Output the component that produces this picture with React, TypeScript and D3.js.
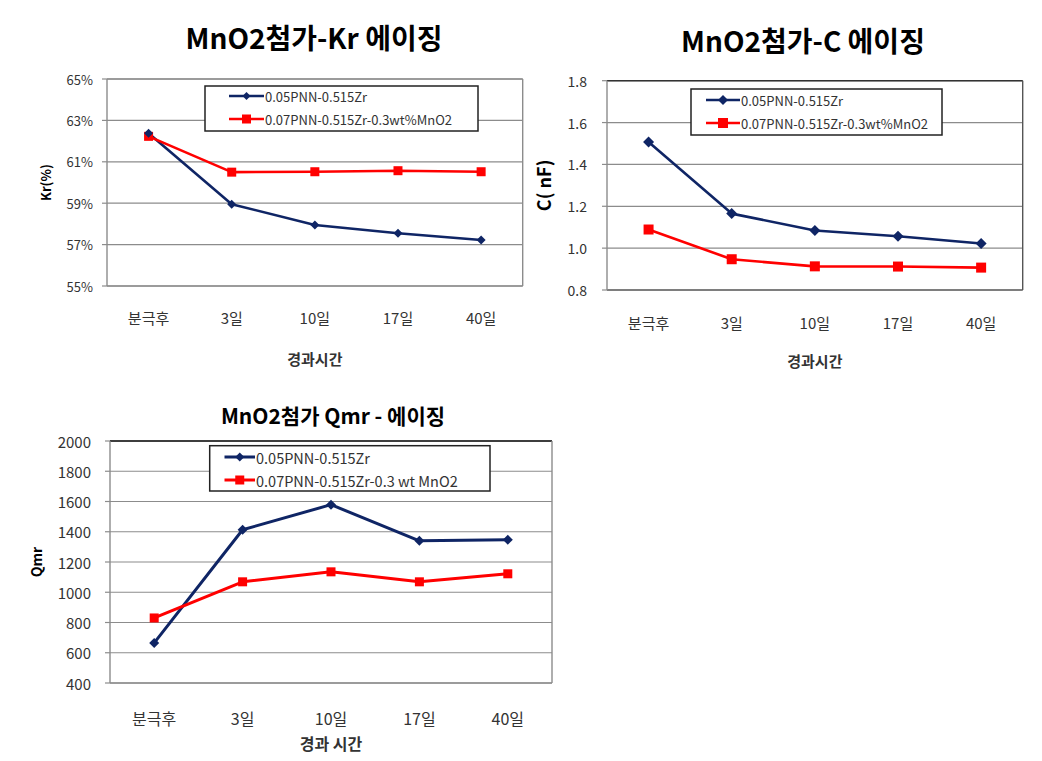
import React from "react";
import * as d3 from "d3";

const categories = ["분극후", "3일", "10일", "17일", "40일"];

const krSeriesA = [62.38, 58.95, 57.95, 57.55, 57.22];
const krSeriesB = [62.23, 60.5, 60.52, 60.57, 60.52];
const krTicks = [55, 57, 59, 61, 63, 65];

const cSeriesA = [1.507, 1.165, 1.084, 1.057, 1.022];
const cSeriesB = [1.089, 0.947, 0.913, 0.912, 0.907];
const cTicks = [0.8, 1.0, 1.2, 1.4, 1.6, 1.8];

const qmrSeriesA = [665, 1413, 1579, 1340, 1347];
const qmrSeriesB = [830, 1069, 1135, 1069, 1122];
const qmrTicks = [400, 600, 800, 1000, 1200, 1400, 1600, 1800, 2000];

const seriesNameA = "0.05PNN-0.515Zr";
const seriesNameB = "0.07PNN-0.515Zr-0.3wt%MnO2";
const seriesNameBQ = "0.07PNN-0.515Zr-0.3 wt MnO2";

const BLUE = "#0f2565";
const RED = "#ff0000";
const FONT = "'Noto Sans CJK KR', 'Noto Sans', sans-serif";

type ChartProps = {
  box: { left: number; right: number; top: number; bottom: number };
  a: number[];
  b: number[];
  ticks: number[];
  fmt: (v: number) => string;
  title: string;
  titleX: number;
  titleY: number;
  titleSize: number;
  yLabel: string;
  yLabelX: number;
  yLabelSize: number;
  xTitle: string;
  xTitleY: number;
  xTitleSize: number;
  xTickY: number;
  xTickSize: number;
  yTickSize: number;
  yTickGap: number;
  legend: { x0: number; x1: number; y0: number; y1: number; lx0: number; lx1: number; ya: number; yb: number; size: number };
  nameB: string;
  border: { top: string; right: string; bottom: string; left: string };
  lineW: number;
  diamond: number;
  square: number;
};

function Chart(p: ChartProps) {
  const { box } = p;
  const x = d3.scalePoint<string>().domain(categories).range([box.left, box.right]).padding(0.5);
  const y = d3
    .scaleLinear()
    .domain([p.ticks[0], p.ticks[p.ticks.length - 1]])
    .range([box.bottom, box.top]);
  const line = d3
    .line<number>()
    .x((_, i) => x(categories[i]) as number)
    .y((d) => y(d));
  const diamond = (cx: number, cy: number, s: number) =>
    `M${cx},${cy - s / 2}L${cx + s / 2},${cy}L${cx},${cy + s / 2}L${cx - s / 2},${cy}Z`;
  const L = p.legend;
  const xMid = (box.left + box.right) / 2;
  return (
    <g fontFamily={FONT}>
      <text x={p.titleX} y={p.titleY} textAnchor="middle" dominantBaseline="central" fontSize={p.titleSize} fontWeight="bold" fill="#000">
        {p.title}
      </text>
      {p.ticks.map((t) => (
        <g key={t}>
          <line x1={box.left} x2={box.right} y1={y(t)} y2={y(t)} stroke="#8c8c8c" strokeWidth={1.2} />
          <line x1={box.left - 5} x2={box.left} y1={y(t)} y2={y(t)} stroke="#8c8c8c" strokeWidth={1.2} />
          <text x={box.left - p.yTickGap} y={y(t)} textAnchor="end" dominantBaseline="central" fontSize={p.yTickSize} fill="#333">
            {p.fmt(t)}
          </text>
        </g>
      ))}
      <line x1={box.left} x2={box.right} y1={box.top} y2={box.top} stroke={p.border.top} strokeWidth={1.4} />
      <line x1={box.left} x2={box.right} y1={box.bottom} y2={box.bottom} stroke={p.border.bottom} strokeWidth={1.4} />
      <line x1={box.left} x2={box.left} y1={box.top} y2={box.bottom} stroke={p.border.left} strokeWidth={1.4} />
      <line x1={box.right} x2={box.right} y1={box.top} y2={box.bottom} stroke={p.border.right} strokeWidth={1.4} />
      {categories.map((c) => (
        <text key={c} x={x(c)} y={p.xTickY} textAnchor="middle" dominantBaseline="central" fontSize={p.xTickSize} fill="#333">
          {c}
        </text>
      ))}
      <text x={xMid} y={p.xTitleY} textAnchor="middle" dominantBaseline="central" fontSize={p.xTitleSize} fontWeight="bold" fill="#333">
        {p.xTitle}
      </text>
      <text
        transform={`translate(${p.yLabelX},${(box.top + box.bottom) / 2}) rotate(-90)`}
        textAnchor="middle"
        dominantBaseline="central"
        fontSize={p.yLabelSize}
        fontWeight="bold"
        fill="#000"
      >
        {p.yLabel}
      </text>
      <path d={line(p.a) as string} fill="none" stroke={BLUE} strokeWidth={p.lineW} strokeLinejoin="round" />
      <path d={line(p.b) as string} fill="none" stroke={RED} strokeWidth={p.lineW} strokeLinejoin="round" />
      {p.b.map((v, i) => (
        <rect
          key={"b" + i}
          x={(x(categories[i]) as number) - p.square / 2}
          y={y(v) - p.square / 2}
          width={p.square}
          height={p.square}
          fill={RED}
        />
      ))}
      {p.a.map((v, i) => (
        <path key={"a" + i} d={diamond(x(categories[i]) as number, y(v), p.diamond)} fill={BLUE} />
      ))}
      <rect x={L.x0} y={L.y0} width={L.x1 - L.x0} height={L.y1 - L.y0} fill="#fff" stroke="#222" strokeWidth={1.5} />
      <line x1={L.lx0} x2={L.lx1} y1={L.ya} y2={L.ya} stroke={BLUE} strokeWidth={p.lineW} />
      <path d={diamond((L.lx0 + L.lx1) / 2, L.ya, p.diamond - 1)} fill={BLUE} />
      <text x={L.lx1 + 1} y={L.ya} dominantBaseline="central" fontSize={L.size} fill="#333">
        {seriesNameA}
      </text>
      <line x1={L.lx0} x2={L.lx1} y1={L.yb} y2={L.yb} stroke={RED} strokeWidth={p.lineW} />
      <rect x={(L.lx0 + L.lx1) / 2 - p.square / 2} y={L.yb - p.square / 2} width={p.square} height={p.square} fill={RED} />
      <text x={L.lx1 + 1} y={L.yb} dominantBaseline="central" fontSize={L.size} fill="#333">
        {p.nameB}
      </text>
    </g>
  );
}

export default function App() {
  return (
    <svg width={1042} height={761} style={{ position: "absolute", left: 0, top: 0, background: "#fff" }}>
      <rect width={1042} height={761} fill="#fff" />
      <Chart
        box={{ left: 107, right: 522.7, top: 79, bottom: 286 }}
        a={krSeriesA}
        b={krSeriesB}
        ticks={krTicks}
        fmt={(v) => `${v}%`}
        title="MnO2첨가-Kr 에이징"
        titleX={314}
        titleY={37}
        titleSize={28}
        yLabel="Kr(%)"
        yLabelX={45}
        yLabelSize={13}
        xTitle="경과시간"
        xTitleY={358}
        xTitleSize={15}
        xTickY={317}
        xTickSize={15}
        yTickSize={13}
        yTickGap={14}
        legend={{ x0: 205, x1: 478, y0: 86, y1: 131, lx0: 229, lx1: 264, ya: 96, yb: 119, size: 13 }}
        nameB={seriesNameB}
        border={{ top: "#8c8c8c", right: "#8c8c8c", bottom: "#8c8c8c", left: "#8c8c8c" }}
        lineW={2.6}
        diamond={9}
        square={9}
      />
      <Chart
        box={{ left: 607, right: 1022.7, top: 80.7, bottom: 290 }}
        a={cSeriesA}
        b={cSeriesB}
        ticks={cTicks}
        fmt={(v) => v.toFixed(1)}
        title="MnO2첨가-C 에이징"
        titleX={803}
        titleY={40}
        titleSize={28}
        yLabel="C( nF)"
        yLabelX={543}
        yLabelSize={18}
        xTitle="경과시간"
        xTitleY={360}
        xTitleSize={15}
        xTickY={322}
        xTickSize={15}
        yTickSize={14}
        yTickGap={20}
        legend={{ x0: 691, x1: 942, y0: 89, y1: 135, lx0: 706, lx1: 740, ya: 100, yb: 123, size: 13 }}
        nameB={seriesNameB}
        border={{ top: "#333", right: "#555", bottom: "#666", left: "#8c8c8c" }}
        lineW={2.6}
        diamond={11}
        square={10}
      />
      <Chart
        box={{ left: 110, right: 552, top: 441, bottom: 683 }}
        a={qmrSeriesA}
        b={qmrSeriesB}
        ticks={qmrTicks}
        fmt={(v) => String(v)}
        title="MnO2첨가 Qmr - 에이징"
        titleX={333}
        titleY={415}
        titleSize={21}
        yLabel="Qmr"
        yLabelX={36}
        yLabelSize={14}
        xTitle="경과 시간"
        xTitleY={743}
        xTitleSize={16}
        xTickY={718}
        xTickSize={16}
        yTickSize={15}
        yTickGap={19}
        legend={{ x0: 209.7, x1: 490, y0: 445.7, y1: 491, lx0: 224.5, lx1: 255, ya: 457, yb: 480, size: 14.5 }}
        nameB={seriesNameBQ}
        border={{ top: "#111", right: "#8c8c8c", bottom: "#8c8c8c", left: "#8c8c8c" }}
        lineW={3}
        diamond={10}
        square={9}
      />
    </svg>
  );
}
